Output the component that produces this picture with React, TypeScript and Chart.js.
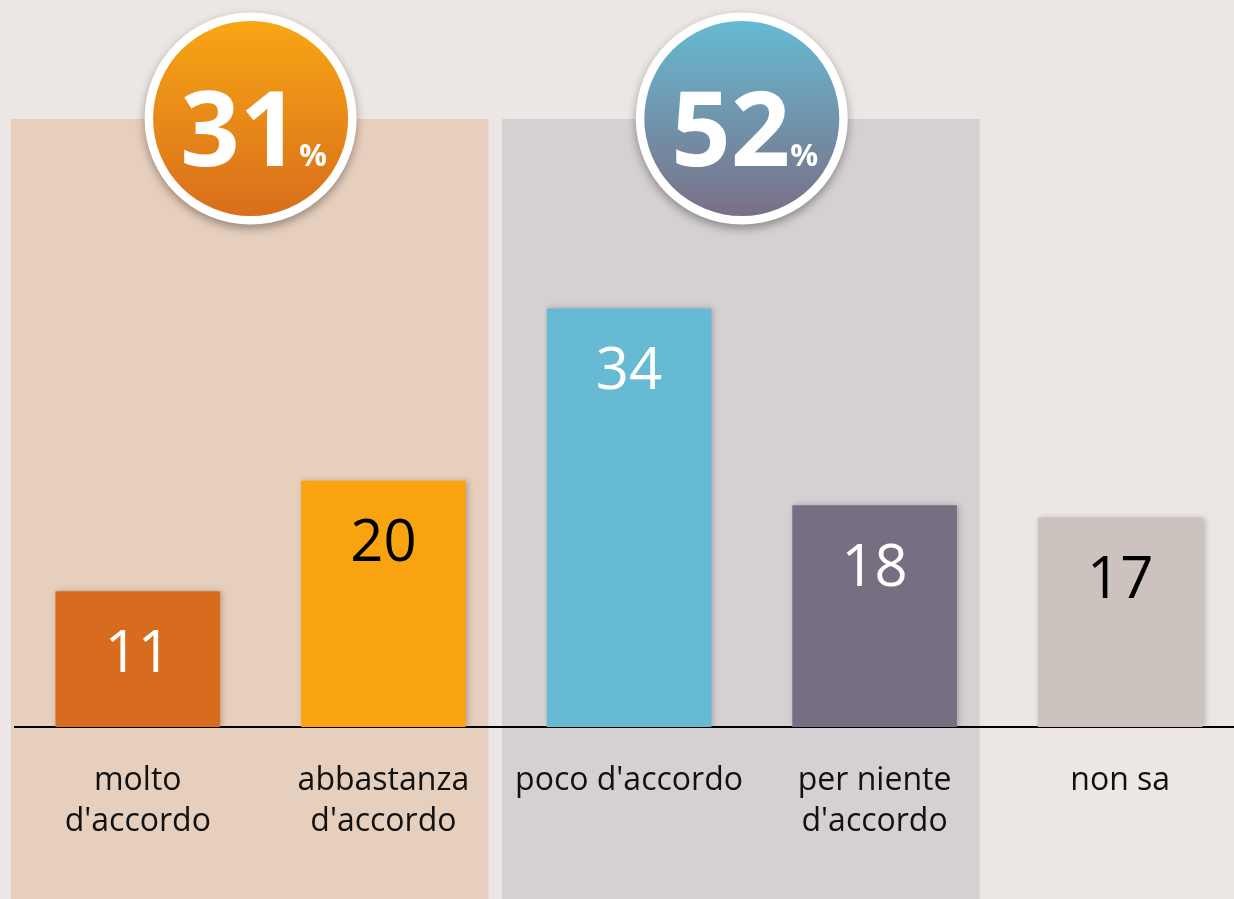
import React, { useEffect, useRef } from 'react';
import { Chart, registerables } from 'chart.js';

Chart.register(...registerables);

const categories: string[][] = [
  ['molto', "d'accordo"],
  ['abbastanza', "d'accordo"],
  ["poco d'accordo"],
  ['per niente', "d'accordo"],
  ['non sa'],
];
const values = [11, 20, 34, 18, 17];
const barColors = ['#D86C1E', '#F9A310', '#67BAD4', '#786E82', '#CCC3BE'];
const valueLabelColors = ['#FFFFFF', '#000000', '#FFFFFF', '#FFFFFF', '#000000'];
const groupMembers = [
  [0, 1],
  [2, 3],
];
const groupPanelColors = ['#E7CFBD', '#D5D1D2'];
const groupGradTop = ['#F8A614', '#66BAD3'];
const groupGradBottom = ['#D86E1C', '#7A6F86'];
const yMin = 0;
const yMax = 50;

const BG = '#ECE7E4';
const BAR_W = 164;
const FONT = '"Open Sans", "DejaVu Sans", sans-serif';

const decorPlugin = {
  id: 'decor',
  beforeDraw(chart: any) {
    const { ctx, width, height } = chart;
    const x = chart.scales.x;
    ctx.save();
    ctx.fillStyle = BG;
    ctx.fillRect(0, 0, width, height);
    groupMembers.forEach((g, gi) => {
      const left = x.getPixelForValue(g[0]) - BAR_W / 2 - 45;
      const right = x.getPixelForValue(g[g.length - 1]) + BAR_W / 2 + 23;
      ctx.fillStyle = groupPanelColors[gi];
      ctx.fillRect(left, 119, right - left, height - 119);
    });
    ctx.restore();
  },
  beforeDatasetsDraw(chart: any) {
    const { ctx } = chart;
    ctx.save();
    ctx.shadowColor = 'rgba(0,0,0,0.22)';
    ctx.shadowBlur = 6;
    ctx.shadowOffsetX = 2;
    ctx.shadowOffsetY = 0;
  },
  afterDatasetsDraw(chart: any) {
    const { ctx } = chart;
    ctx.restore();
    const meta = chart.getDatasetMeta(0);
    ctx.save();
    ctx.font = `58px ${FONT}`;
    ctx.textAlign = 'center';
    ctx.textBaseline = 'alphabetic';
    meta.data.forEach((el: any, i: number) => {
      ctx.fillStyle = valueLabelColors[i];
      ctx.fillText(String(values[i]), el.x, el.y + 80);
    });
    ctx.restore();
  },
  afterDraw(chart: any) {
    const { ctx } = chart;
    const x = chart.scales.x;
    groupMembers.forEach((g, gi) => {
      const left = x.getPixelForValue(g[0]) - BAR_W / 2 - 45;
      const right = x.getPixelForValue(g[g.length - 1]) + BAR_W / 2 + 23;
      const cx = (left + right) / 2 + 1;
      const cy = 118.5;
      const rOuter = 106;
      const rInner = 97.5;
      ctx.save();
      ctx.shadowColor = 'rgba(0,0,0,0.35)';
      ctx.shadowBlur = 10;
      ctx.shadowOffsetY = 4;
      ctx.beginPath();
      ctx.arc(cx, cy, rOuter, 0, Math.PI * 2);
      ctx.fillStyle = '#FFFFFF';
      ctx.fill();
      ctx.restore();

      ctx.save();
      const grad = ctx.createLinearGradient(0, cy - rInner, 0, cy + rInner);
      grad.addColorStop(0, groupGradTop[gi]);
      grad.addColorStop(1, groupGradBottom[gi]);
      ctx.beginPath();
      ctx.arc(cx, cy, rInner, 0, Math.PI * 2);
      ctx.fillStyle = grad;
      ctx.fill();

      const sum = g.reduce((s, idx) => s + values[idx], 0);
      const numStr = String(sum);
      ctx.fillStyle = '#FFFFFF';
      ctx.textBaseline = 'alphabetic';
      ctx.textAlign = 'left';
      ctx.font = `bold 104px ${FONT}`;
      const w1 = ctx.measureText(numStr).width;
      ctx.font = `bold 31px ${FONT}`;
      const w2 = ctx.measureText('%').width;
      const gap = 0;
      const start = cx - (w1 + gap + w2) / 2 + 3;
      ctx.font = `bold 104px ${FONT}`;
      ctx.fillText(numStr, start, 166);
      ctx.font = `bold 31px ${FONT}`;
      ctx.fillText('%', start + w1 + gap, 166);
      ctx.restore();
    });
  },
};

export default function App() {
  const canvasRef = useRef<HTMLCanvasElement | null>(null);

  useEffect(() => {
    document.body.style.margin = '0';
    document.body.style.overflow = 'hidden';
    document.body.style.background = BG;
    const canvas = canvasRef.current;
    if (!canvas) return;
    const chart = new Chart(canvas, {
      type: 'bar',
      data: {
        labels: categories,
        datasets: [
          {
            data: values,
            backgroundColor: barColors,
            borderWidth: 0,
            barThickness: BAR_W,
          },
        ],
      },
      options: {
        responsive: false,
        animation: false,
        devicePixelRatio: 1,
        layout: { padding: { left: 15, right: 7, top: 112, bottom: 0 } },
        plugins: {
          legend: { display: false },
          tooltip: { enabled: false },
        },
        scales: {
          x: {
            z: 1,
            offset: true,
            grid: { display: false, drawTicks: false },
            border: { display: true, color: '#000000', width: 2 },
            ticks: {
              color: '#111111',
              padding: 33,
              maxRotation: 0,
              autoSkip: false,
              font: { family: FONT, size: 32, lineHeight: 1.28 },
            },
            afterFit: (scale: any) => {
              scale.height = 172;
            },
          },
          y: {
            display: false,
            min: yMin,
            max: yMax,
          },
        },
      },
      plugins: [decorPlugin],
    });
    return () => chart.destroy();
  }, []);

  return (
    <div style={{ width: 1234, height: 899, overflow: 'hidden', position: 'relative' }}>
      <canvas
        ref={canvasRef}
        width={1250}
        height={899}
        style={{ width: 1250, height: 899, display: 'block' }}
      />
    </div>
  );
}
